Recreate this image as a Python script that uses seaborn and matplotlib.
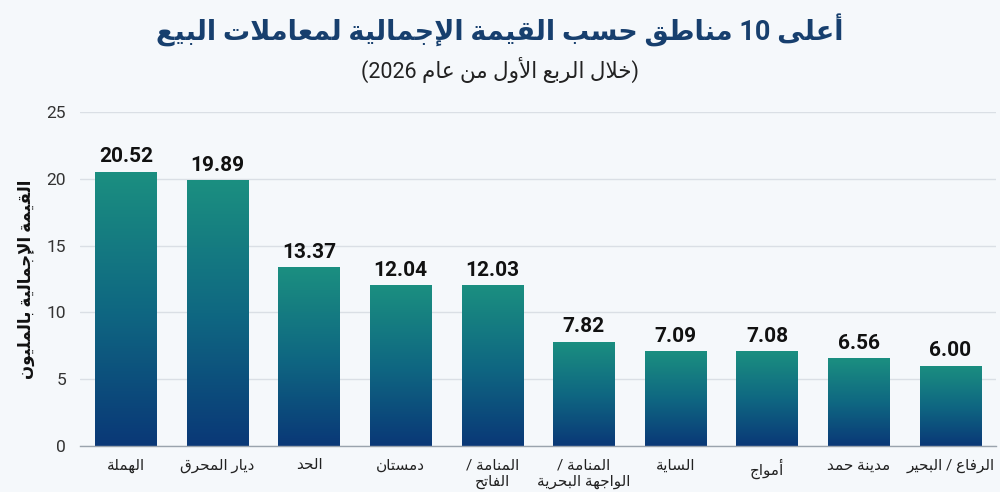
import re
import numpy as np
import matplotlib
matplotlib.use("Agg")
import matplotlib.pyplot as plt
from matplotlib.colors import LinearSegmentedColormap
import seaborn as sns

# Datos (texto en orden lógico)
title = "أعلى 10 مناطق حسب القيمة الإجمالية لمعاملات البيع"
subtitle = "(خلال الربع الأول من عام 2026)"
ylabel = "القيمة الإجمالية بالمليون"
zones = ["الهملة", "ديار المحرق", "الحد", "دمستان", "المنامة /\nالفاتح",
         "المنامة /\nالواجهة البحرية", "الساية", "أمواج", "مدينة حمد", "الرفاع / البحير"]
values = [20.52, 19.89, 13.37, 12.04, 12.03, 7.82, 7.09, 7.08, 6.56, 6.00]
yticks = [0, 5, 10, 15, 20, 25]

# --- formas contextuales árabes (matplotlib no hace shaping) ---
FORMS = {
    'ا': (0xFE8D, 0xFE8E), 'أ': (0xFE83, 0xFE84), 'إ': (0xFE87, 0xFE88), 'آ': (0xFE81, 0xFE82),
    'ة': (0xFE93, 0xFE94), 'د': (0xFEA9, 0xFEAA), 'ر': (0xFEAD, 0xFEAE), 'و': (0xFEED, 0xFEEE),
    'ى': (0xFEEF, 0xFEF0),
    'ب': 0xFE8F, 'ت': 0xFE95, 'ج': 0xFE9D, 'ح': 0xFEA1, 'خ': 0xFEA5, 'س': 0xFEB1, 'ط': 0xFEC1,
    'ع': 0xFEC9, 'ف': 0xFED1, 'ق': 0xFED5, 'ل': 0xFEDD, 'م': 0xFEE1, 'ن': 0xFEE5, 'ه': 0xFEE9,
    'ي': 0xFEF1,
}
LAM_ALEF = {'ا': 0xFEFB, 'أ': 0xFEF7, 'إ': 0xFEF9, 'آ': 0xFEF5}


def shape_line(line):
    items = []
    i = 0
    while i < len(line):
        c = line[i]
        if c == 'ل' and i + 1 < len(line) and line[i + 1] in LAM_ALEF:
            items.append(('LA', line[i + 1]))
            i += 2
        else:
            items.append((c, None))
            i += 1

    def dual(it):
        return isinstance(FORMS.get(it[0]), int)

    def arabic(it):
        return it[0] == 'LA' or it[0] in FORMS

    out = []
    for k, it in enumerate(items):
        c = it[0]
        if not arabic(it):
            out.append(c)
            continue
        prev = k > 0 and dual(items[k - 1])
        nxt = k + 1 < len(items) and arabic(items[k + 1]) and dual(it)
        if c == 'LA':
            out.append(chr(LAM_ALEF[it[1]] + (1 if prev else 0)))
        elif dual(it):
            off = 3 if (prev and nxt) else 1 if prev else 2 if nxt else 0
            out.append(chr(FORMS[c] + off))
        else:
            iso, fin = FORMS[c]
            out.append(chr(fin if prev else iso))
    vis = ''.join(out)[::-1]
    vis = re.sub(r'[0-9]+', lambda m: m.group(0)[::-1], vis)
    return vis.translate(str.maketrans('()', ')('))


def ar(text):
    return '\n'.join(shape_line(l) for l in text.split('\n'))


sns.set_theme(style="white")
FONT = ['Roboto', 'DejaVu Sans']
plt.rcParams['font.family'] = FONT
bg = '#f5f8fb'

fig = plt.figure(figsize=(10, 4.92), dpi=100, facecolor=bg)
ax = fig.add_axes([0.080, 0.0935, 0.916, 0.679])
ax.set_facecolor(bg)

sns.barplot(x=list(range(len(zones))), y=values, ax=ax, width=0.67,
            color='#1a8c80', edgecolor='none', zorder=3)

# Degradado por barra: azul marino abajo, verde azulado arriba
cmap = LinearSegmentedColormap.from_list('grad', ['#0a3877', '#0f6882', '#1b8f80'])
grad = np.linspace(0, 1, 256).reshape(-1, 1)
for p in ax.patches:
    x0, w, h = p.get_x(), p.get_width(), p.get_height()
    im = ax.imshow(grad, extent=[x0, x0 + w, 0, h], origin='lower', aspect='auto',
                   cmap=cmap, zorder=3, interpolation='bicubic')
    im.set_clip_path(p)
    p.set_facecolor('none')

ax.bar_label(ax.containers[0], labels=[f'{v:.2f}' for v in values], padding=4,
             fontsize=15, fontweight='bold', color='#111111', family=FONT)

ax.set_xlim(-0.5, len(zones) - 0.5)
ax.set_ylim(0, 25)
ax.set_yticks(yticks)
ax.set_yticklabels([str(t) for t in yticks], fontsize=12.5, color='#333333')
ax.set_xticks(range(len(zones)))
ax.set_xticklabels([ar(z) for z in zones], fontsize=11, color='#222222', linespacing=1.25)
ax.tick_params(axis='x', length=0, pad=9)
ax.tick_params(axis='y', length=0, pad=10)
ax.yaxis.grid(True, color='#dadfe5', lw=1, zorder=0)
ax.set_axisbelow(True)
for s in ['top', 'right', 'left']:
    ax.spines[s].set_visible(False)
ax.spines['bottom'].set_color('#9aa3ad')
ax.spines['bottom'].set_linewidth(1)
ax.spines['bottom'].set_zorder(4)

ax.set_ylabel(ar(ylabel), fontsize=12, fontweight='bold', color='#111111', labelpad=8)
ax.set_xlabel('')

fig.text(0.5, 0.938, ar(title), ha='center', va='center', fontsize=19.5,
         fontweight='bold', color='#173f6e')
fig.text(0.5, 0.858, ar(subtitle), ha='center', va='center', fontsize=15.5, color='#222222')

fig.savefig('out.png', dpi=100, facecolor=bg)
